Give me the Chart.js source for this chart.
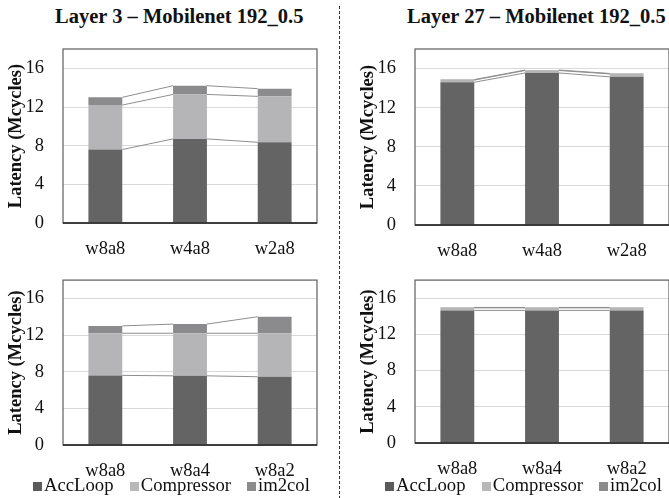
<!DOCTYPE html>
<html>
<head>
<meta charset="utf-8">
<script src="https://cdn.jsdelivr.net/npm/chart.js@4.4.1/dist/chart.umd.min.js"></script>
<style>
  html, body { margin: 0; padding: 0; background: #fff; }
  body { width: 669px; height: 498px; position: relative; overflow: hidden;
         font-family: 'Liberation Serif', 'Times New Roman', Times, 'DejaVu Serif', serif; }
  canvas { position: absolute; }
  .title { position: absolute; top: 4px; font-weight: bold; font-size: 20.5px; line-height: 24px; white-space: nowrap; color: #111; }
  .sep { position: absolute; left: 339px; top: 6px; width: 1px; height: 492px;
         background: repeating-linear-gradient(to bottom, #333 0 3px, transparent 3px 5px); }
  .lg { position: absolute; top: 474px; font-size: 18.7px; line-height: 22px; white-space: nowrap; color: #111; }
  .lg i { display: inline-block; width: 9px; height: 9px; margin-right: 2px; }
</style>
</head>
<body>
<div class="title" style="left:55px">Layer 3 – Mobilenet 192_0.5</div>
<div class="title" style="left:407px">Layer 27 – Mobilenet 192_0.5</div>
<div class="sep"></div>

<canvas id="c1"></canvas>
<canvas id="c2"></canvas>
<canvas id="c3"></canvas>
<canvas id="c4"></canvas>

<div id="legends"></div>

<script>
// categories
const weightLabels = ['w8a8', 'w4a8', 'w2a8'];
const actLabels = ['w8a8', 'w8a4', 'w8a2'];
const seriesNames = ['AccLoop', 'Compressor', 'im2col'];
const yTicks = [0, 4, 8, 12, 16];

// Layer 3, weight bits varied
const l3wAcc = [7.6, 8.7, 8.35];
const l3wComp = [4.6, 4.6, 4.75];
const l3wIm2col = [0.8, 0.9, 0.8];

// Layer 3, activation bits varied
const l3aAcc = [7.6, 7.55, 7.45];
const l3aComp = [4.6, 4.65, 4.75];
const l3aIm2col = [0.8, 1.0, 1.8];

// Layer 27, weight bits varied
const l27wAcc = [14.6, 15.55, 15.15];
const l27wComp = [0.22, 0.25, 0.3];
const l27wIm2col = [0.05, 0.05, 0.05];

// Layer 27, activation bits varied
const l27aAcc = [14.65, 14.65, 14.65];
const l27aComp = [0.28, 0.28, 0.28];
const l27aIm2col = [0.05, 0.05, 0.05];

const barColors = ['#646464', '#b5b5b7', '#8b8b8d'];
const legendColors = ['#5a5a5a', '#b8b8b8', '#8c8c8c'];
const FONT = "'Liberation Serif', 'Times New Roman', Times, 'DejaVu Serif', serif";

Chart.defaults.font.family = FONT;
Chart.defaults.color = '#111';

// box around plot area + dark x axis
const framePlugin = {
    id: 'frame',
    afterDraw(chart) {
        const { ctx, chartArea: a } = chart;
        ctx.save();
        ctx.strokeStyle = '#6a6a6a';
        ctx.lineWidth = 1.3;
        ctx.strokeRect(a.left, a.top, a.right - a.left, a.bottom - a.top);
        ctx.strokeStyle = '#222';
        ctx.lineWidth = 1.6;
        ctx.beginPath();
        ctx.moveTo(a.left, a.bottom);
        ctx.lineTo(a.right, a.bottom);
        ctx.stroke();
        ctx.restore();
    }
};

// series lines joining the tops of each stacked segment
const seriesLinesPlugin = {
    id: 'seriesLines',
    afterDatasetsDraw(chart) {
        const ctx = chart.ctx;
        ctx.save();
        ctx.strokeStyle = '#8e8e8e';
        ctx.lineWidth = 1;
        chart.data.datasets.forEach((ds, i) => {
            const bars = chart.getDatasetMeta(i).data;
            for (let j = 0; j < bars.length - 1; j++) {
                const a = bars[j], b = bars[j + 1];
                ctx.beginPath();
                ctx.moveTo(a.x + a.width / 2, a.y);
                ctx.lineTo(b.x - b.width / 2, b.y);
                ctx.stroke();
            }
        });
        ctx.restore();
    }
};

function makePanel(id, left, top, width, plotTop, plotBottom, rightPad, labels, acc, comp, im2col) {
    const canvas = document.getElementById(id);
    const xHeight = 40;
    const height = plotBottom - top + xHeight;
    canvas.style.left = left + 'px';
    canvas.style.top = top + 'px';
    canvas.style.width = width + 'px';
    canvas.style.height = height + 'px';
    canvas.width = width;
    canvas.height = height;

    const values = [acc, comp, im2col];
    return new Chart(canvas, {
        type: 'bar',
        data: {
            labels: labels,
            datasets: seriesNames.map((name, i) => ({
                label: name,
                data: values[i],
                backgroundColor: barColors[i],
                borderWidth: 0,
                barPercentage: 0.4,
                categoryPercentage: 1.0
            }))
        },
        options: {
            responsive: false,
            animation: false,
            devicePixelRatio: 1,
            layout: { padding: { top: plotTop - top, right: rightPad, bottom: 0, left: 0 } },
            plugins: {
                legend: { display: false },
                title: { display: false },
                tooltip: { enabled: false }
            },
            scales: {
                x: {
                    stacked: true,
                    offset: true,
                    grid: { display: false },
                    border: { display: false },
                    ticks: { padding: 7, color: '#111', font: { size: 18.5 } },
                    afterFit: s => { s.height = xHeight; }
                },
                y: {
                    stacked: true,
                    min: 0,
                    max: 18,
                    grid: { color: '#d9d9d9', lineWidth: 1, drawTicks: false },
                    border: { display: false },
                    ticks: { padding: 19, color: '#111', font: { size: 18.5 } },
                    title: {
                        display: true,
                        text: 'Latency (Mcycles)',
                        color: '#111',
                        font: { size: 18.5, weight: 'bold' },
                        padding: { top: 5, bottom: 0 }
                    },
                    afterBuildTicks: s => { s.ticks = yTicks.map(v => ({ value: v })); },
                    afterFit: s => { s.width = 63; }
                }
            }
        },
        plugins: [seriesLinesPlugin, framePlugin]
    });
}

makePanel('c1', 0, 0, 335, 49, 223, 18, weightLabels, l3wAcc, l3wComp, l3wIm2col);
makePanel('c2', 352, 0, 330, 49, 225, 13, weightLabels, l27wAcc, l27wComp, l27wIm2col);
makePanel('c3', 0, 250, 335, 266, 445, 18, actLabels, l3aAcc, l3aComp, l3aIm2col);
makePanel('c4', 352, 250, 330, 266, 443, 13, actLabels, l27aAcc, l27aComp, l27aIm2col);

// legends under the bottom panels
const legendTextStarts = [44, 140.7, 258];
const legendHost = document.getElementById('legends');
[0, 352].forEach(offset => {
    seriesNames.forEach((name, i) => {
        const item = document.createElement('span');
        item.className = 'lg';
        item.style.left = (offset + legendTextStarts[i] - 11) + 'px';
        item.innerHTML = '<i style="background:' + legendColors[i] + '"></i>' + name;
        legendHost.appendChild(item);
    });
});
</script>
</body>
</html>
